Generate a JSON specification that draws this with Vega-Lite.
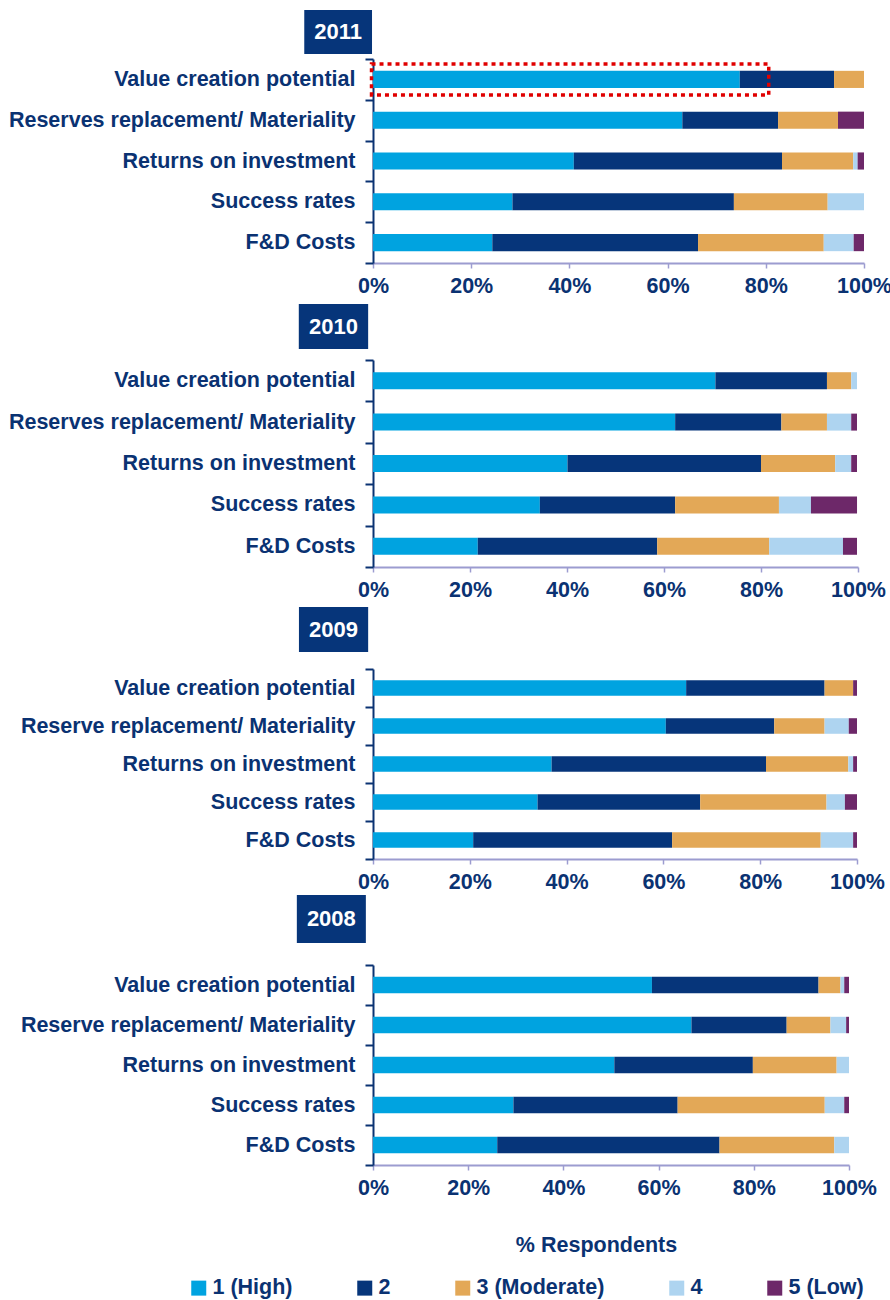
{
  "$schema": "https://vega.github.io/schema/vega-lite/v6.json",
  "background": "white",
  "padding": {"left": 8, "top": 10, "right": 0, "bottom": 0},
  "config": {
    "view": {"stroke": null},
    "font": "Liberation Sans"
  },
  "datasets": {
    "survey": [
      {"year": "2011", "factor": "Value creation potential", "level": "1 (High)", "pct": 74.7},
      {"year": "2011", "factor": "Value creation potential", "level": "2", "pct": 19.2},
      {"year": "2011", "factor": "Value creation potential", "level": "3 (Moderate)", "pct": 6.1},
      {"year": "2011", "factor": "Reserves replacement/ Materiality", "level": "1 (High)", "pct": 63.0},
      {"year": "2011", "factor": "Reserves replacement/ Materiality", "level": "2", "pct": 19.5},
      {"year": "2011", "factor": "Reserves replacement/ Materiality", "level": "3 (Moderate)", "pct": 12.2},
      {"year": "2011", "factor": "Reserves replacement/ Materiality", "level": "5 (Low)", "pct": 5.3},
      {"year": "2011", "factor": "Returns on investment", "level": "1 (High)", "pct": 40.9},
      {"year": "2011", "factor": "Returns on investment", "level": "2", "pct": 42.4},
      {"year": "2011", "factor": "Returns on investment", "level": "3 (Moderate)", "pct": 14.5},
      {"year": "2011", "factor": "Returns on investment", "level": "4", "pct": 0.9},
      {"year": "2011", "factor": "Returns on investment", "level": "5 (Low)", "pct": 1.3},
      {"year": "2011", "factor": "Success rates", "level": "1 (High)", "pct": 28.4},
      {"year": "2011", "factor": "Success rates", "level": "2", "pct": 45.1},
      {"year": "2011", "factor": "Success rates", "level": "3 (Moderate)", "pct": 19.1},
      {"year": "2011", "factor": "Success rates", "level": "4", "pct": 7.4},
      {"year": "2011", "factor": "F&D Costs", "level": "1 (High)", "pct": 24.3},
      {"year": "2011", "factor": "F&D Costs", "level": "2", "pct": 41.9},
      {"year": "2011", "factor": "F&D Costs", "level": "3 (Moderate)", "pct": 25.6},
      {"year": "2011", "factor": "F&D Costs", "level": "4", "pct": 6.1},
      {"year": "2011", "factor": "F&D Costs", "level": "5 (Low)", "pct": 2.1},

      {"year": "2010", "factor": "Value creation potential", "level": "1 (High)", "pct": 70.6},
      {"year": "2010", "factor": "Value creation potential", "level": "2", "pct": 23.0},
      {"year": "2010", "factor": "Value creation potential", "level": "3 (Moderate)", "pct": 5.0},
      {"year": "2010", "factor": "Value creation potential", "level": "4", "pct": 1.2},
      {"year": "2010", "factor": "Reserves replacement/ Materiality", "level": "1 (High)", "pct": 62.3},
      {"year": "2010", "factor": "Reserves replacement/ Materiality", "level": "2", "pct": 21.9},
      {"year": "2010", "factor": "Reserves replacement/ Materiality", "level": "3 (Moderate)", "pct": 9.4},
      {"year": "2010", "factor": "Reserves replacement/ Materiality", "level": "4", "pct": 5.0},
      {"year": "2010", "factor": "Reserves replacement/ Materiality", "level": "5 (Low)", "pct": 1.2},
      {"year": "2010", "factor": "Returns on investment", "level": "1 (High)", "pct": 40.1},
      {"year": "2010", "factor": "Returns on investment", "level": "2", "pct": 39.9},
      {"year": "2010", "factor": "Returns on investment", "level": "3 (Moderate)", "pct": 15.3},
      {"year": "2010", "factor": "Returns on investment", "level": "4", "pct": 3.3},
      {"year": "2010", "factor": "Returns on investment", "level": "5 (Low)", "pct": 1.2},
      {"year": "2010", "factor": "Success rates", "level": "1 (High)", "pct": 34.4},
      {"year": "2010", "factor": "Success rates", "level": "2", "pct": 27.9},
      {"year": "2010", "factor": "Success rates", "level": "3 (Moderate)", "pct": 21.4},
      {"year": "2010", "factor": "Success rates", "level": "4", "pct": 6.6},
      {"year": "2010", "factor": "Success rates", "level": "5 (Low)", "pct": 9.5},
      {"year": "2010", "factor": "F&D Costs", "level": "1 (High)", "pct": 21.6},
      {"year": "2010", "factor": "F&D Costs", "level": "2", "pct": 37.0},
      {"year": "2010", "factor": "F&D Costs", "level": "3 (Moderate)", "pct": 23.1},
      {"year": "2010", "factor": "F&D Costs", "level": "4", "pct": 15.2},
      {"year": "2010", "factor": "F&D Costs", "level": "5 (Low)", "pct": 2.9},

      {"year": "2009", "factor": "Value creation potential", "level": "1 (High)", "pct": 64.7},
      {"year": "2009", "factor": "Value creation potential", "level": "2", "pct": 28.6},
      {"year": "2009", "factor": "Value creation potential", "level": "3 (Moderate)", "pct": 5.9},
      {"year": "2009", "factor": "Value creation potential", "level": "5 (Low)", "pct": 0.8},
      {"year": "2009", "factor": "Reserve replacement/ Materiality", "level": "1 (High)", "pct": 60.5},
      {"year": "2009", "factor": "Reserve replacement/ Materiality", "level": "2", "pct": 22.4},
      {"year": "2009", "factor": "Reserve replacement/ Materiality", "level": "3 (Moderate)", "pct": 10.4},
      {"year": "2009", "factor": "Reserve replacement/ Materiality", "level": "4", "pct": 5.0},
      {"year": "2009", "factor": "Reserve replacement/ Materiality", "level": "5 (Low)", "pct": 1.7},
      {"year": "2009", "factor": "Returns on investment", "level": "1 (High)", "pct": 36.9},
      {"year": "2009", "factor": "Returns on investment", "level": "2", "pct": 44.3},
      {"year": "2009", "factor": "Returns on investment", "level": "3 (Moderate)", "pct": 17.0},
      {"year": "2009", "factor": "Returns on investment", "level": "4", "pct": 1.0},
      {"year": "2009", "factor": "Returns on investment", "level": "5 (Low)", "pct": 0.8},
      {"year": "2009", "factor": "Success rates", "level": "1 (High)", "pct": 34.0},
      {"year": "2009", "factor": "Success rates", "level": "2", "pct": 33.6},
      {"year": "2009", "factor": "Success rates", "level": "3 (Moderate)", "pct": 26.1},
      {"year": "2009", "factor": "Success rates", "level": "4", "pct": 3.8},
      {"year": "2009", "factor": "Success rates", "level": "5 (Low)", "pct": 2.5},
      {"year": "2009", "factor": "F&D Costs", "level": "1 (High)", "pct": 20.7},
      {"year": "2009", "factor": "F&D Costs", "level": "2", "pct": 41.1},
      {"year": "2009", "factor": "F&D Costs", "level": "3 (Moderate)", "pct": 30.7},
      {"year": "2009", "factor": "F&D Costs", "level": "4", "pct": 6.7},
      {"year": "2009", "factor": "F&D Costs", "level": "5 (Low)", "pct": 0.8},

      {"year": "2008", "factor": "Value creation potential", "level": "1 (High)", "pct": 58.6},
      {"year": "2008", "factor": "Value creation potential", "level": "2", "pct": 35.0},
      {"year": "2008", "factor": "Value creation potential", "level": "3 (Moderate)", "pct": 4.6},
      {"year": "2008", "factor": "Value creation potential", "level": "4", "pct": 0.8},
      {"year": "2008", "factor": "Value creation potential", "level": "5 (Low)", "pct": 1.0},
      {"year": "2008", "factor": "Reserve replacement/ Materiality", "level": "1 (High)", "pct": 66.9},
      {"year": "2008", "factor": "Reserve replacement/ Materiality", "level": "2", "pct": 20.0},
      {"year": "2008", "factor": "Reserve replacement/ Materiality", "level": "3 (Moderate)", "pct": 9.2},
      {"year": "2008", "factor": "Reserve replacement/ Materiality", "level": "4", "pct": 3.3},
      {"year": "2008", "factor": "Reserve replacement/ Materiality", "level": "5 (Low)", "pct": 0.6},
      {"year": "2008", "factor": "Returns on investment", "level": "1 (High)", "pct": 50.7},
      {"year": "2008", "factor": "Returns on investment", "level": "2", "pct": 29.1},
      {"year": "2008", "factor": "Returns on investment", "level": "3 (Moderate)", "pct": 17.6},
      {"year": "2008", "factor": "Returns on investment", "level": "4", "pct": 2.6},
      {"year": "2008", "factor": "Success rates", "level": "1 (High)", "pct": 29.5},
      {"year": "2008", "factor": "Success rates", "level": "2", "pct": 34.5},
      {"year": "2008", "factor": "Success rates", "level": "3 (Moderate)", "pct": 30.9},
      {"year": "2008", "factor": "Success rates", "level": "4", "pct": 4.1},
      {"year": "2008", "factor": "Success rates", "level": "5 (Low)", "pct": 1.0},
      {"year": "2008", "factor": "F&D Costs", "level": "1 (High)", "pct": 26.1},
      {"year": "2008", "factor": "F&D Costs", "level": "2", "pct": 46.7},
      {"year": "2008", "factor": "F&D Costs", "level": "3 (Moderate)", "pct": 24.1},
      {"year": "2008", "factor": "F&D Costs", "level": "4", "pct": 3.1}
    ]
  },
  "resolve": {"scale": {"x": "independent", "y": "independent", "color": "shared"}, "legend": {"color": "shared"}},
  "bounds": "flush",
  "spacing": 0,
  "vconcat": [
    {
      "width": 491, "height": 49,
      "data": {"values": [{"year": "2011"}]},
      "layer": [
        {"mark": {"type": "rect", "color": "#06357A"},
         "encoding": {
           "y": {"field": "year", "type": "nominal", "axis": null, "scale": {"paddingInner": 0, "paddingOuter": 0.0568, "align": 0}},
           "x": {"datum": -14.0, "type": "quantitative", "axis": null, "scale": {"domain": [0, 100], "nice": false, "zero": false}},
           "x2": {"datum": -0.2}}},
        {"mark": {"type": "text", "color": "white", "font": "Liberation Sans", "fontSize": 22, "fontWeight": "bold", "baseline": "middle", "align": "center"},
         "encoding": {
           "y": {"field": "year", "type": "nominal", "axis": null},
           "x": {"datum": -7.1, "type": "quantitative", "axis": null},
           "text": {"field": "year"}}}
      ]
    },
    {
      "width": 491, "height": 204,
      "layer": [
        {"data": {"name": "survey"},
         "transform": [{"filter": "datum.year == '2011'"}],
         "mark": {"type": "bar", "height": {"band": 0.42}},
         "encoding": {
           "y": {"field": "factor", "type": "nominal", "sort": null, "scale": {"paddingInner": 0, "paddingOuter": 0},
                 "axis": {"title": null, "domainColor": "#0A3272", "domainWidth": 2, "tickColor": "#0A3272", "tickSize": 8, "tickWidth": 2, "tickBand": "extent", "labelFont": "Liberation Sans", "labelFontSize": 21.5, "labelFontWeight": "bold", "labelColor": "#0A3272", "labelPadding": 10, "labelLimit": 600}},
           "x": {"field": "pct", "type": "quantitative", "stack": "zero", "scale": {"domain": [0, 100], "nice": false},
                 "axis": {"title": null, "values": [0, 20, 40, 60, 80, 100], "labelExpr": "datum.value + '%'", "grid": false, "labelFlush": false, "domainColor": "#9C9CD0", "domainWidth": 2, "tickColor": "#9C9CD0", "tickSize": 5, "tickWidth": 1.5, "labelFont": "Liberation Sans", "labelFontSize": 21.5, "labelFontWeight": "bold", "labelColor": "#0A3272", "labelPadding": 7}},
           "color": {"field": "level", "type": "nominal",
                     "scale": {"domain": ["1 (High)", "2", "3 (Moderate)", "4", "5 (Low)"], "range": ["#00A3E0", "#06357A", "#E3A857", "#AED4F0", "#6D2869"]},
                     "legend": {"title": null, "orient": "none", "legendX": -185, "legendY": 1267, "direction": "horizontal", "symbolType": "square", "symbolSize": 225, "symbolStrokeWidth": 0, "labelFont": "Liberation Sans", "labelFontSize": 21.5, "labelFontWeight": "bold", "labelColor": "#0A3272", "columnPadding": 61, "labelOffset": 3}},
           "order": {"field": "level", "sort": "ascending"}}},
        {"data": {"values": [{"note": "highlight"}]},
         "mark": {"type": "bar", "height": {"band": 0.76}, "fillOpacity": 0, "stroke": "#E00000", "strokeWidth": 3.5, "strokeDash": [4, 4]},
         "encoding": {
           "y": {"datum": "Value creation potential", "type": "nominal"},
           "x": {"datum": -0.3, "type": "quantitative"},
           "x2": {"datum": 80.6}}}
      ]
    },
    {
      "width": 485, "height": 97,
      "data": {"values": [{"year": "2010"}]},
      "layer": [
        {"mark": {"type": "rect", "color": "#06357A"},
         "encoding": {
           "y": {"field": "year", "type": "nominal", "axis": null, "scale": {"paddingInner": 0, "paddingOuter": 0.5778, "align": 0.7885}},
           "x": {"datum": -15.3, "type": "quantitative", "axis": null, "scale": {"domain": [0, 100], "nice": false, "zero": false}},
           "x2": {"datum": -1.0}}},
        {"mark": {"type": "text", "color": "white", "font": "Liberation Sans", "fontSize": 22, "fontWeight": "bold", "baseline": "middle", "align": "center"},
         "encoding": {
           "y": {"field": "year", "type": "nominal", "axis": null},
           "x": {"datum": -8.15, "type": "quantitative", "axis": null},
           "text": {"field": "year"}}}
      ]
    },
    {
      "width": 485, "height": 207,
      "data": {"name": "survey"},
      "transform": [{"filter": "datum.year == '2010'"}],
      "mark": {"type": "bar", "height": {"band": 0.41}},
      "encoding": {
        "y": {"field": "factor", "type": "nominal", "sort": null, "scale": {"paddingInner": 0, "paddingOuter": 0},
              "axis": {"title": null, "domainColor": "#0A3272", "domainWidth": 2, "tickColor": "#0A3272", "tickSize": 8, "tickWidth": 2, "tickBand": "extent", "labelFont": "Liberation Sans", "labelFontSize": 21.5, "labelFontWeight": "bold", "labelColor": "#0A3272", "labelPadding": 10, "labelLimit": 600}},
        "x": {"field": "pct", "type": "quantitative", "stack": "zero", "scale": {"domain": [0, 100], "nice": false},
              "axis": {"title": null, "values": [0, 20, 40, 60, 80, 100], "labelExpr": "datum.value + '%'", "grid": false, "labelFlush": false, "domainColor": "#9C9CD0", "domainWidth": 2, "tickColor": "#9C9CD0", "tickSize": 5, "tickWidth": 1.5, "labelFont": "Liberation Sans", "labelFontSize": 21.5, "labelFontWeight": "bold", "labelColor": "#0A3272", "labelPadding": 7}},
        "color": {"field": "level", "type": "nominal",
                  "scale": {"domain": ["1 (High)", "2", "3 (Moderate)", "4", "5 (Low)"], "range": ["#00A3E0", "#06357A", "#E3A857", "#AED4F0", "#6D2869"]},
                  "legend": {"title": null, "orient": "none", "legendX": -185, "legendY": 1267, "direction": "horizontal", "symbolType": "square", "symbolSize": 225, "symbolStrokeWidth": 0, "labelFont": "Liberation Sans", "labelFontSize": 21.5, "labelFontWeight": "bold", "labelColor": "#0A3272", "columnPadding": 61, "labelOffset": 3}},
        "order": {"field": "level", "sort": "ascending"}}
    },
    {
      "width": 484, "height": 102,
      "data": {"values": [{"year": "2009"}]},
      "layer": [
        {"mark": {"type": "rect", "color": "#06357A"},
         "encoding": {
           "y": {"field": "year", "type": "nominal", "axis": null, "scale": {"paddingInner": 0, "paddingOuter": 0.6333, "align": 0.7018}},
           "x": {"datum": -15.3, "type": "quantitative", "axis": null, "scale": {"domain": [0, 100], "nice": false, "zero": false}},
           "x2": {"datum": -1.0}}},
        {"mark": {"type": "text", "color": "white", "font": "Liberation Sans", "fontSize": 22, "fontWeight": "bold", "baseline": "middle", "align": "center"},
         "encoding": {
           "y": {"field": "year", "type": "nominal", "axis": null},
           "x": {"datum": -8.15, "type": "quantitative", "axis": null},
           "text": {"field": "year"}}}
      ]
    },
    {
      "width": 484, "height": 190,
      "data": {"name": "survey"},
      "transform": [{"filter": "datum.year == '2009'"}],
      "mark": {"type": "bar", "height": {"band": 0.41}},
      "encoding": {
        "y": {"field": "factor", "type": "nominal", "sort": null, "scale": {"paddingInner": 0, "paddingOuter": 0},
              "axis": {"title": null, "domainColor": "#0A3272", "domainWidth": 2, "tickColor": "#0A3272", "tickSize": 8, "tickWidth": 2, "tickBand": "extent", "labelFont": "Liberation Sans", "labelFontSize": 21.5, "labelFontWeight": "bold", "labelColor": "#0A3272", "labelPadding": 10, "labelLimit": 600}},
        "x": {"field": "pct", "type": "quantitative", "stack": "zero", "scale": {"domain": [0, 100], "nice": false},
              "axis": {"title": null, "values": [0, 20, 40, 60, 80, 100], "labelExpr": "datum.value + '%'", "grid": false, "labelFlush": false, "domainColor": "#9C9CD0", "domainWidth": 2, "tickColor": "#9C9CD0", "tickSize": 5, "tickWidth": 1.5, "labelFont": "Liberation Sans", "labelFontSize": 21.5, "labelFontWeight": "bold", "labelColor": "#0A3272", "labelPadding": 7}},
        "color": {"field": "level", "type": "nominal",
                  "scale": {"domain": ["1 (High)", "2", "3 (Moderate)", "4", "5 (Low)"], "range": ["#00A3E0", "#06357A", "#E3A857", "#AED4F0", "#6D2869"]},
                  "legend": {"title": null, "orient": "none", "legendX": -185, "legendY": 1267, "direction": "horizontal", "symbolType": "square", "symbolSize": 225, "symbolStrokeWidth": 0, "labelFont": "Liberation Sans", "labelFontSize": 21.5, "labelFontWeight": "bold", "labelColor": "#0A3272", "columnPadding": 61, "labelOffset": 3}},
        "order": {"field": "level", "sort": "ascending"}}
    },
    {
      "width": 476, "height": 106,
      "data": {"values": [{"year": "2008"}]},
      "layer": [
        {"mark": {"type": "rect", "color": "#06357A"},
         "encoding": {
           "y": {"field": "year", "type": "nominal", "axis": null, "scale": {"paddingInner": 0, "paddingOuter": 0.6042, "align": 0.6207}},
           "x": {"datum": -16.0, "type": "quantitative", "axis": null, "scale": {"domain": [0, 100], "nice": false, "zero": false}},
           "x2": {"datum": -1.5}}},
        {"mark": {"type": "text", "color": "white", "font": "Liberation Sans", "fontSize": 22, "fontWeight": "bold", "baseline": "middle", "align": "center"},
         "encoding": {
           "y": {"field": "year", "type": "nominal", "axis": null},
           "x": {"datum": -8.75, "type": "quantitative", "axis": null},
           "text": {"field": "year"}}}
      ]
    },
    {
      "width": 476, "height": 200,
      "data": {"name": "survey"},
      "transform": [{"filter": "datum.year == '2008'"}],
      "mark": {"type": "bar", "height": {"band": 0.41}},
      "encoding": {
        "y": {"field": "factor", "type": "nominal", "sort": null, "scale": {"paddingInner": 0, "paddingOuter": 0},
              "axis": {"title": null, "domainColor": "#0A3272", "domainWidth": 2, "tickColor": "#0A3272", "tickSize": 8, "tickWidth": 2, "tickBand": "extent", "labelFont": "Liberation Sans", "labelFontSize": 21.5, "labelFontWeight": "bold", "labelColor": "#0A3272", "labelPadding": 10, "labelLimit": 600}},
        "x": {"field": "pct", "type": "quantitative", "stack": "zero", "scale": {"domain": [0, 100], "nice": false},
              "axis": {"title": "% Respondents", "titleX": 223, "titlePadding": 36, "titleFont": "Liberation Sans", "titleFontSize": 21.5, "titleFontWeight": "bold", "titleColor": "#0A3272", "values": [0, 20, 40, 60, 80, 100], "labelExpr": "datum.value + '%'", "grid": false, "labelFlush": false, "domainColor": "#9C9CD0", "domainWidth": 2, "tickColor": "#9C9CD0", "tickSize": 5, "tickWidth": 1.5, "labelFont": "Liberation Sans", "labelFontSize": 21.5, "labelFontWeight": "bold", "labelColor": "#0A3272", "labelPadding": 7}},
        "color": {"field": "level", "type": "nominal",
                  "scale": {"domain": ["1 (High)", "2", "3 (Moderate)", "4", "5 (Low)"], "range": ["#00A3E0", "#06357A", "#E3A857", "#AED4F0", "#6D2869"]},
                  "legend": {"title": null, "orient": "none", "legendX": -185, "legendY": 1267, "direction": "horizontal", "symbolType": "square", "symbolSize": 225, "symbolStrokeWidth": 0, "labelFont": "Liberation Sans", "labelFontSize": 21.5, "labelFontWeight": "bold", "labelColor": "#0A3272", "columnPadding": 61, "labelOffset": 3}},
        "order": {"field": "level", "sort": "ascending"}}
    }
  ]
}
